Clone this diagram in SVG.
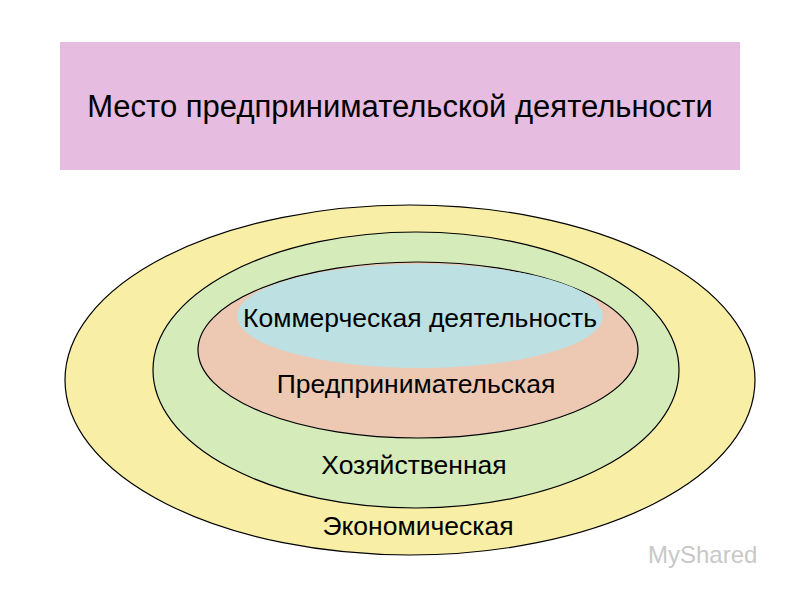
<svg xmlns="http://www.w3.org/2000/svg" width="800" height="600" viewBox="0 0 800 600">
<style>
.e{stroke:#000;stroke-width:1.2}
.t{font-family:"Liberation Sans",Arial,sans-serif;font-size:26.5px;fill:#000;text-anchor:middle}
</style>
<rect width="800" height="600" fill="#fff"/>
<g id="title"><rect x="60" y="42" width="680" height="128" fill="#e6bde0"/>
<text class="t" x="400" y="117" style="font-size:31px">Место предпринимательской деятельности</text></g>
<g id="economic"><ellipse class="e" cx="410" cy="380" rx="345" ry="175" fill="#f9eea6"/></g>
<g id="household"><ellipse class="e" cx="416" cy="370" rx="263" ry="138" fill="#d5ebb9"/></g>
<g id="entrepreneurial"><ellipse class="e" cx="418" cy="350" rx="220" ry="88" fill="#edc9b3"/></g>
<g id="commercial"><ellipse cx="420" cy="316" rx="183" ry="52" fill="#bde0e3"/></g>
<g id="labels">
<text class="t" x="420" y="327">Коммерческая деятельность</text>
<text class="t" x="416" y="393">Предпринимательская</text>
<text class="t" x="414" y="474">Хозяйственная</text>
<text class="t" x="418" y="535">Экономическая</text>
</g>
<g id="watermark"><text x="648" y="563" style="font-family:'Liberation Sans',Arial,sans-serif;font-size:24px;fill:#c8c8c8">MyShared</text></g>
</svg>
